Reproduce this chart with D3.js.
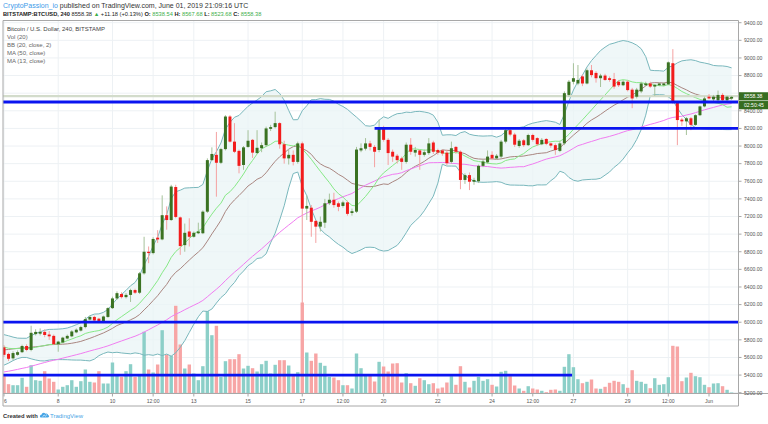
<!DOCTYPE html>
<html>
<head>
<meta charset="utf-8">
<script src="https://cdn.jsdelivr.net/npm/d3@7"></script>
<style>
  body { margin: 0; background: #fff; }
  svg { display: block; font-family: "Liberation Sans", Arial, sans-serif; }
  text { white-space: pre; }
</style>
</head>
<body>
<svg id="chart" width="768" height="424"></svg>
<script>
// 4h candles, BITSTAMP:BTCUSD, May 6 00:00 -> Jun 1 20:00 (2019)
var opens = [
  5715,5640,5590,5630,5660,5730,5685,5865,5870,5890,
  5860,5845,5750,5770,5815,5840,5885,5905,5945,6030,
  6060,6040,6000,6060,6160,6270,6320,6285,6310,6365,
  6335,6555,6800,6785,6960,6940,7215,7160,7535,7190,
  6875,7030,6970,7010,7010,7255,7840,7900,7810,7965,
  8335,8050,7945,7785,7990,8070,7920,7975,8010,8195,
  8215,8260,8020,7860,7900,7820,8030,7290,7300,7150,
  7085,7130,7350,7390,7350,7320,7360,7240,7255,7950,
  7970,8030,7990,7955,8200,8070,7935,7890,7860,7820,
  8015,7925,7950,7900,7920,8040,7955,7950,7925,7820,
  7990,7935,7615,7670,7595,7600,7775,7815,7900,7860,
  7880,8050,8180,8130,8000,8065,8010,8125,8090,8020,
  8080,8030,8010,7945,8030,8580,8730,8710,8790,8710,
  8860,8830,8770,8800,8770,8760,8730,8690,8730,8640,
  8560,8620,8690,8710,8675,8690,8690,8700,8940,8500,
  8300,8280,8315,8240,8350,8450,8560,8530,8520,8580,
  8520,8538
];
var highs = [
  5740,5655,5670,5680,5745,5750,5960,5920,5930,5920,
  5900,5860,5790,5835,5860,5910,5930,5960,6060,6075,
  6075,6050,6075,6170,6290,6350,6340,6330,6380,6380,
  6570,6970,6860,6965,7045,7440,7315,7560,7560,7200,
  7120,7180,7030,7130,7270,7860,7985,8160,7980,8350,
  8350,8260,7960,8000,8180,8080,8180,8040,8220,8240,
  8390,8270,8060,7960,7950,8050,8050,7440,7330,7160,
  7200,7400,7460,7470,7370,7380,7380,7290,7990,8030,
  8090,8060,8010,8300,8230,8090,7960,7910,7880,8040,
  8090,7990,7960,7960,8090,8060,7970,7960,7960,8050,
  8000,7950,7690,7700,7640,7790,7850,7950,7940,7910,
  8070,8200,8200,8150,8080,8080,8140,8140,8100,8090,
  8090,8040,8030,8060,8620,8750,8940,8920,8810,8880,
  8920,8850,8820,8820,8790,8830,8750,8750,8750,8660,
  8660,8730,8730,8730,8700,8720,8720,8960,9100,8510,
  8320,8330,8330,8360,8460,8560,8590,8580,8630,8600,
  8570,8568
];
var lows = [
  5605,5560,5570,5620,5650,5670,5670,5850,5850,5830,
  5800,5740,5665,5760,5805,5830,5875,5895,5930,6020,
  6010,5990,5990,6050,6150,6255,6270,6270,6230,6320,
  6320,6540,6670,6770,6900,6930,7050,7150,7180,6765,
  6800,6860,6960,7000,7000,7240,7830,7425,7795,7950,
  8040,7920,7690,7730,7980,7865,7910,7930,7990,8170,
  8200,7970,7800,7790,7780,7800,6178,7160,6970,6900,
  7030,7070,7330,7300,7260,7300,7210,7210,7240,7930,
  7950,7950,7760,7930,8050,7785,7820,7800,7730,7800,
  7900,7880,7730,7880,7900,7910,7900,7890,7780,7800,
  7910,7510,7570,7500,7560,7580,7760,7800,7840,7850,
  7860,8030,8110,7990,7980,7990,8000,8050,8000,8010,
  8010,7980,7900,7930,8010,8560,8700,8690,8680,8700,
  8780,8720,8670,8740,8730,8650,8670,8680,8620,8430,
  8540,8600,8680,8660,8570,8680,8680,8690,8480,8010,
  8230,8125,8180,8230,8340,8440,8530,8510,8510,8510,
  8500,8524
];
var closes = [
  5630,5585,5650,5660,5730,5685,5880,5890,5890,5855,
  5840,5750,5780,5825,5845,5895,5915,5945,6035,6060,
  6020,6000,6065,6160,6270,6330,6285,6310,6365,6335,
  6555,6800,6785,6945,6940,7215,7160,7540,7195,6865,
  7015,6970,7015,7030,7255,7840,7910,7810,7965,8335,
  8050,7935,7775,7985,8060,7925,7980,8010,8200,8215,
  8260,8020,7860,7900,7820,8030,7290,7320,7140,7085,
  7140,7350,7390,7330,7310,7360,7230,7260,7960,7975,
  8030,7990,7935,8200,8070,7920,7880,7840,7820,8015,
  7935,7955,7900,7930,8030,7935,7925,7915,7805,7975,
  7935,7615,7670,7595,7615,7775,7825,7880,7860,7890,
  8050,8180,8130,8015,8060,8010,8125,8070,8020,8070,
  8025,8005,7955,8030,8600,8730,8770,8750,8710,8860,
  8805,8770,8800,8750,8750,8675,8690,8730,8635,8540,
  8640,8710,8710,8675,8695,8710,8710,8950,8500,8295,
  8280,8315,8240,8350,8450,8540,8540,8560,8580,8520,
  8560,8558
];
var volumes = [
  1730,930,830,830,1570,670,2830,1330,1270,2230,
  1500,1170,400,670,830,1330,670,1230,2400,1170,
  1100,2230,1000,1000,3100,1830,1670,2230,2930,1670,
  1830,6170,2400,2100,2900,6330,3900,3770,8770,4900,
  2500,2900,2000,1330,2730,8230,5830,6770,1670,3230,
  3430,3430,3930,2500,2770,2530,2200,2930,3270,2000,
  2870,3330,3330,2800,1830,2130,9100,4100,3270,4000,
  3070,2770,1670,1600,1330,830,830,500,4000,2530,
  1930,1930,1200,3170,2700,2200,3000,3030,1100,2030,
  1030,770,1530,1330,930,1030,500,600,1100,1730,
  870,2730,1170,600,1270,1670,1270,1430,870,700,
  2170,2270,1730,800,500,270,730,500,400,270,
  130,370,400,270,2670,3930,2630,1430,1030,1170,
  1400,500,470,670,1070,1270,1170,930,570,2330,
  1270,1170,970,530,1530,870,930,1630,4770,4700,
  1230,1600,2070,1730,1630,870,630,1000,1030,730,
  370,100
];
// closes before the first visible candle, only feed the indicators' start
var earlierCloses = [
  5150,5160,5140,5150,5170,5190,5180,
  5170,5160,5150,5180,5200,5190,
  5210,5240,5270,5290,5300,5310,
  5320,5340,5330,5350,5360,5370,
  5390,5410,5440,5460,5480,5490,
  5510,5550,5610,5690,5740,5770,
  5790,5710,5640,5690,5750,5790,
  5770,5750,5730,5710,5690,5710
];
var priceTicks = d3.range(5200, 9401, 200);
var timeTickIdx = [0, 12, 24, 33, 42, 54, 66, 75, 84, 96, 108, 117, 126, 138, 147, 156];
var timeTickLabels = ["6", "8", "10", "12:00", "13", "15", "17", "12:00", "20", "22", "24", "12:00", "27", "29", "12:00", "Jun"];
// drawn horizontal levels (price, first bar, last bar; null = chart edge)
var levelPrices = [8500, 8200, 6000, 5400];
var levelFrom = [null, 82, null, null];
var levelTo = [null, null, null, 125.7];
var lastPrice = 8558.38;

var svg = d3.select("#chart");
var pLeft = 3, pRight = 738.5, pTop = 20.5, pBottom = 393.5;

var x = d3.scaleLinear().domain([0, 156]).range([4, 709]);
var y = d3.scaleLinear().domain([5200, 9400]).range([392.7, 22.7]);
var yVol = d3.scaleLinear().domain([0, 10000]).range([pBottom, pBottom - 100]);

var idx = d3.range(closes.length);
var all = earlierCloses.concat(closes), off = earlierCloses.length;
function win(n, i) { return all.slice(off + i - n + 1, off + i + 1); }
var ma13 = idx.map(function(i) { return d3.mean(win(13, i)); });
var ma50 = idx.map(function(i) { return d3.mean(win(50, i)); });
var basis = idx.map(function(i) { return d3.mean(win(20, i)); });
var dev = idx.map(function(i) {
  var m = basis[i];
  return Math.sqrt(d3.mean(win(20, i), function(v) { return (v - m) * (v - m); }));
});

// header
var h1 = svg.append("text").attr("x", 3).attr("y", 7.8).attr("font-size", 7);
h1.append("tspan").attr("fill", "#3d9be9").text("CryptoPassion_io");
h1.append("tspan").attr("fill", "#333").text(" published on TradingView.com, June 01, 2019 21:09:16 UTC");

var green = "#3cae4a";
var parts = [
  ["BITSTAMP:BTCUSD, 240", "bold", "#222"], [" 8558.38 ", "normal", "#222"], ["\u25B2", "normal", green],
  [" +11.18 (+0.13%) ", "normal", "#222"], ["O:", "bold", "#222"], [" 8538.54", "normal", green],
  [" H:", "bold", "#222"], [" 8567.68", "normal", green], [" L:", "bold", "#222"], [" 8523.68", "normal", green],
  [" C:", "bold", "#222"], [" 8558.38", "normal", green]
];
var h2 = svg.append("text").attr("x", 3).attr("y", 16.2).attr("font-size", 5.7);
parts.forEach(function(p) {
  h2.append("tspan").attr("font-weight", p[1]).attr("fill", p[2]).text(p[0]);
});

// grid
var g = svg.append("g");
g.selectAll(".hg").data(priceTicks).join("line")
  .attr("x1", pLeft).attr("x2", pRight)
  .attr("y1", function(d) { return y(d); }).attr("y2", function(d) { return y(d); })
  .attr("stroke", "#edf1f4").attr("stroke-width", 1);
g.selectAll(".vg").data(timeTickIdx).join("line")
  .attr("x1", function(d) { return x(d); }).attr("x2", function(d) { return x(d); })
  .attr("y1", pTop).attr("y2", pBottom)
  .attr("stroke", "#edf1f4").attr("stroke-width", 1);

svg.append("clipPath").attr("id", "plotclip").append("rect")
  .attr("x", pLeft).attr("y", pTop).attr("width", pRight - pLeft).attr("height", pBottom - pTop);
var plot = svg.append("g").attr("clip-path", "url(#plotclip)");

// Bollinger fill
plot.append("path").datum(idx)
  .attr("d", d3.area()
    .x(function(i) { return x(i); })
    .y0(function(i) { return y(basis[i] - 2 * dev[i]); })
    .y1(function(i) { return y(basis[i] + 2 * dev[i]); }))
  .attr("fill", "#e9f4f5").attr("fill-opacity", 0.75);

// volume
plot.selectAll(".vol").data(idx).join("rect")
  .attr("x", function(i) { return x(i) - 1.7; })
  .attr("width", 3.4)
  .attr("y", function(i) { return yVol(volumes[i]); })
  .attr("height", function(i) { return pBottom - yVol(volumes[i]); })
  .attr("fill", function(i) { return closes[i] >= opens[i] ? "#8ccfc8" : "#f7a5a5"; });

// indicator lines
function drawLine(vals, color, w) {
  plot.append("path").datum(idx)
    .attr("d", d3.line().x(function(i) { return x(i); }).y(function(i) { return y(vals[i]); }))
    .attr("fill", "none").attr("stroke", color).attr("stroke-width", w);
}
drawLine(idx.map(function(i) { return basis[i] + 2 * dev[i]; }), "#79b7bc", 1);
drawLine(idx.map(function(i) { return basis[i] - 2 * dev[i]; }), "#79b7bc", 1);
drawLine(basis, "#a98680", 1);
drawLine(ma50, "#f07cf0", 1);
drawLine(ma13, "#86e886", 1);

// last price line
plot.append("line").attr("x1", pLeft).attr("x2", pRight)
  .attr("y1", y(lastPrice) - 0.8).attr("y2", y(lastPrice) - 0.8)
  .attr("stroke", "#d3dccb").attr("stroke-width", 2.2);

// candles
plot.selectAll(".wick").data(idx).join("line")
  .attr("x1", function(i) { return x(i); }).attr("x2", function(i) { return x(i); })
  .attr("y1", function(i) { return y(highs[i]); }).attr("y2", function(i) { return y(lows[i]); })
  .attr("stroke", function(i) { return closes[i] >= opens[i] ? "#a6c29a" : "#f4a2a2"; })
  .attr("stroke-width", 1);
plot.selectAll(".body").data(idx).join("rect")
  .attr("x", function(i) { return x(i) - 1.5; })
  .attr("width", 3)
  .attr("y", function(i) { return y(Math.max(opens[i], closes[i])); })
  .attr("height", function(i) { return Math.max(1, Math.abs(y(opens[i]) - y(closes[i]))); })
  .attr("fill", function(i) { return closes[i] >= opens[i] ? "#3a7222" : "#f21c1c"; });

// horizontal levels
plot.selectAll(".lvl").data(levelPrices).join("line")
  .attr("x1", function(d, k) { return levelFrom[k] === null ? pLeft : x(levelFrom[k]); })
  .attr("x2", function(d, k) { return levelTo[k] === null ? pRight : x(levelTo[k]); })
  .attr("y1", function(d) { return y(d); }).attr("y2", function(d) { return y(d); })
  .attr("stroke", "#0a14f0").attr("stroke-width", 2.8);

// frame
svg.append("path")
  .attr("d", "M" + pLeft + "," + 406 + "V" + pTop + "H" + pRight + "V" + 406 + "H" + pLeft)
  .attr("fill", "none").attr("stroke", "#a8a8a8").attr("stroke-width", 1);
svg.append("line").attr("x1", pLeft).attr("x2", 768).attr("y1", pBottom).attr("y2", pBottom)
  .attr("stroke", "#a8a8a8").attr("stroke-width", 1);

// price axis (the label under the price boxes is hidden, as in the snapshot)
var shownTicks = priceTicks.filter(function(d) { return Math.abs(y(d) - y(lastPrice)) > 6; });
var pa = svg.append("g");
pa.selectAll("line").data(priceTicks).join("line")
  .attr("x1", pRight).attr("x2", pRight + 3)
  .attr("y1", function(d) { return y(d); }).attr("y2", function(d) { return y(d); })
  .attr("stroke", "#a8a8a8");
pa.selectAll("text").data(shownTicks).join("text")
  .attr("x", 744).attr("y", function(d) { return y(d) + 1.8; })
  .attr("font-size", 5.1).attr("fill", "#555")
  .text(function(d) { return d3.format(".2f")(d); });

var boxes = [lastPrice.toFixed(2), "02:50:45"];
boxes.forEach(function(t, k) {
  var yy = y(lastPrice) - 4.6 + k * 8.8;
  svg.append("rect").attr("x", pRight + 0.5).attr("y", yy).attr("width", 29).attr("height", 8.2)
    .attr("fill", "#376d20");
  svg.append("text").attr("x", 744).attr("y", yy + 5.9).attr("font-size", 5.1).attr("fill", "#fff").text(t);
});

// time axis
var ta = svg.append("g");
ta.selectAll("line").data(timeTickIdx).join("line")
  .attr("x1", function(d) { return x(d); }).attr("x2", function(d) { return x(d); })
  .attr("y1", pBottom).attr("y2", pBottom + 3)
  .attr("stroke", "#a8a8a8");
ta.selectAll("text").data(timeTickIdx).join("text")
  .attr("x", function(d) { return x(d); }).attr("y", 402.5)
  .attr("text-anchor", function(d, k) { return k === 0 ? "start" : "middle"; })
  .attr("font-size", 5.1).attr("fill", "#555")
  .text(function(d, k) { return timeTickLabels[k]; });

// legend
var legend = ["Bitcoin / U.S. Dollar, 240, BITSTAMP", "Vol (20)", "BB (20, close, 2)", "MA (50, close)", "MA (13, close)"];
svg.selectAll(".leg").data(legend).join("text")
  .attr("x", 7).attr("y", function(d, k) { return 30.9 + k * 8; })
  .attr("font-size", 6).attr("fill", function(d, k) { return k === 0 ? "#444" : "#666"; })
  .text(function(d) { return d; });

// footer
svg.append("text").attr("x", 3).attr("y", 418).attr("font-size", 5.8).attr("font-weight", "bold")
  .attr("fill", "#333").text("Created with");
var logo = svg.append("g").attr("transform", "translate(40,411.5)").attr("fill", "#47a5e6");
logo.append("path").attr("d", "M1,6 C-0.5,6 -0.5,3.2 1.5,3.2 C1.8,1 4.5,0.5 5.4,2.2 C6.5,1.4 8.2,2.3 8,3.6 C9.6,3.8 9.5,6 8,6 Z");
logo.append("path").attr("d", "M2.5,5.2 L4.2,3.6 L5.4,4.6 L7,3").attr("stroke", "#fff").attr("stroke-width", 0.7).attr("fill", "none");
svg.append("text").attr("x", 50).attr("y", 418).attr("font-size", 6).attr("fill", "#47a5e6").text("TradingView");
</script>
</body>
</html>
